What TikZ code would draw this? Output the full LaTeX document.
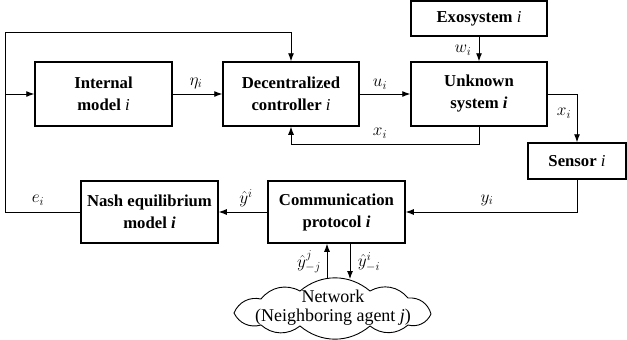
\documentclass[tikz,border=0pt]{standalone}
\usepackage{fontspec}
\setmainfont{Liberation Serif}
\usetikzlibrary{arrows.meta}
\begin{document}
\begin{tikzpicture}[x=1pt,y=-1pt,
  blk/.style={draw, line width=1.5pt, rectangle, minimum width=137pt, minimum height=64pt, inner sep=0pt, align=center, font=\fontsize{16.7}{22}\selectfont\bfseries},
  conn/.style={line width=0.9pt},
  arr/.style={conn, -{Latex[length=8pt,width=6pt]}},
  lbl/.style={inner sep=0pt, font=\fontsize{16.7}{20}\selectfont},
  puff/.style={bend left=40}
]
\useasboundingbox (0,0) rectangle (627,340);
% blocks
\node[blk] (int) at (103.5,94) {Internal\\model \textit{\mdseries i}};
\node[blk, minimum width=136pt] (dec) at (291,94) {Decentralized\\controller \textit{\mdseries i}};
\node[blk, minimum width=136pt] (unk) at (479,94) {Unknown\\system \textit{i}};
\node[blk, minimum width=136pt, minimum height=35pt] (exo) at (479,18.5) {Exosystem \textit{\mdseries i}};
\node[blk, minimum width=98pt, minimum height=36pt] (sen) at (577,161) {Sensor \textit{\mdseries i}};
\node[blk, minimum height=62pt] (comm) at (336.5,212) {Communication\\protocol \textit{i}};
\node[blk, minimum height=62pt] (nash) at (149.5,212) {Nash equilibrium\\model \textit{i}};
% cloud
\draw[line width=0.9pt] (234,313) to[puff] (261,299) to[puff] (300,291) to[puff] (370,291)
  to[puff] (408,298) to[puff] (431,314) to[puff] (408,325) to[puff] (370,326)
  to[puff] (300,326) to[puff] (261,325) to[puff] (234,313) -- cycle;
\node[inner sep=0pt, align=center, font=\fontsize{18}{19}\selectfont] (net) at (333,307.5) {Network\\(Neighboring agent \textit{j})};
% helper coordinates
\coordinate (lb) at (5,212);
\coordinate (lt) at (5,32);
\coordinate (cup) at (327,279);
\coordinate (cdn) at (350,279);
% connectors
\draw[arr] (int.east) -- (dec.west);
\draw[arr] (dec.east) -- (unk.west);
\draw[arr] (exo.south) -- (unk.north);
\draw[arr] (unk.south) -- ++(0,18) -| (dec.south);
\draw[arr] (unk.east) -| (sen.north);
\draw[arr] (sen.south) |- (comm.east);
\draw[arr] (comm.west) -- (nash.east);
\draw[arr] (nash.west) -- (lb) -- (lt) -| (dec.north);
\draw[arr] (int.west -| lb) -- (int.west);
\draw[arr] (cup) -- (comm.south -| cup);
\draw[arr] (comm.south -| cdn) -- (cdn);
% labels
\node[lbl] (leta) at (196,83) {$\eta_i$};
\node[lbl] (lu) at (380,84) {$u_i$};
\node[lbl] (lw) at (463,50) {$w_i$};
\node[lbl] (lx1) at (380,133) {$x_i$};
\node[lbl] (lx2) at (564,113) {$x_i$};
\node[lbl] (ly) at (487,200) {$y_i$};
\node[lbl] (lyh) at (246,198) {$\hat{y}^i$};
\node[lbl] (le) at (38,200) {$e_i$};
\node[lbl] (lyj) at (309,262) {$\hat{y}^j_{-j}$};
\node[lbl] (lyi) at (369,262) {$\hat{y}^i_{-i}$};
\end{tikzpicture}
\end{document}
